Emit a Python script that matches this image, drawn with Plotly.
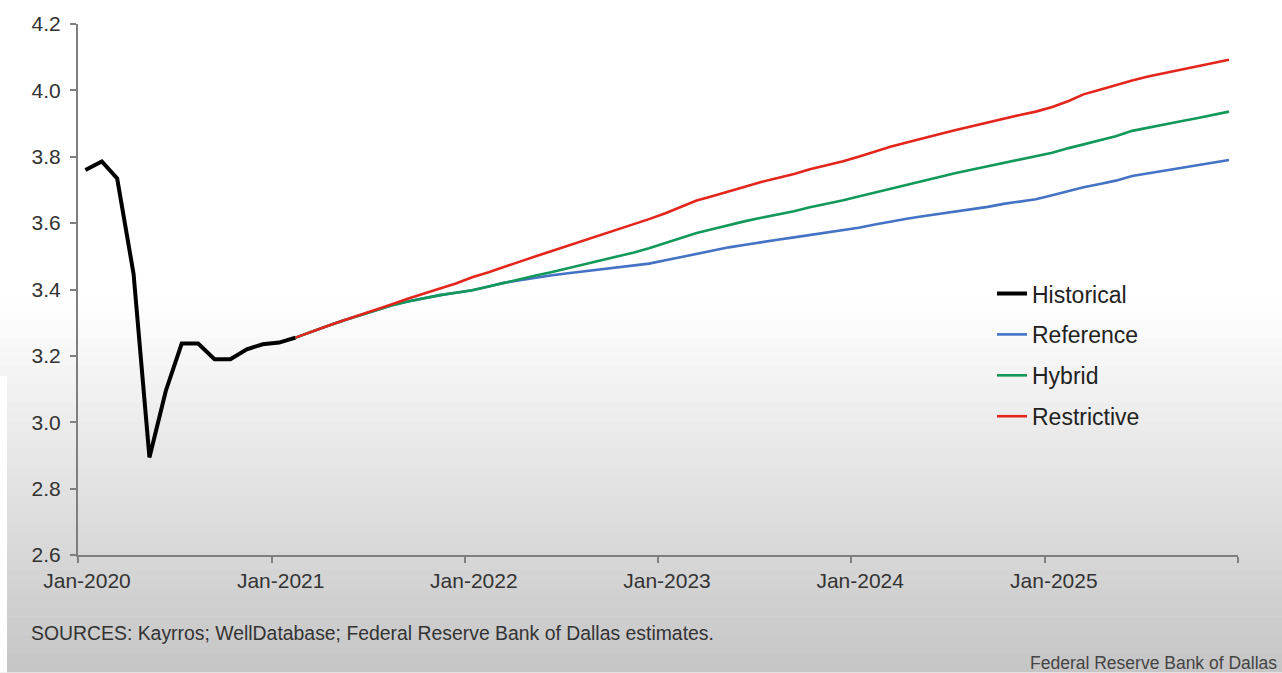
import pandas as pd
import plotly.graph_objects as go

# ---- data ----
months = pd.date_range("2020-01-01", periods=72, freq="MS")
historical = [3.76, 3.786, 3.735, 3.447, 2.894, 3.095, 3.237, 3.237, 3.19, 3.19,
              3.22, 3.235, 3.24, 3.255]
reference = [3.255, 3.272, 3.289, 3.306, 3.322, 3.338, 3.352, 3.364, 3.374, 3.383,
             3.390, 3.398, 3.409, 3.420, 3.428, 3.436, 3.443, 3.449, 3.455, 3.461,
             3.467, 3.472, 3.478, 3.488, 3.498, 3.508, 3.518, 3.527, 3.535, 3.543,
             3.550, 3.557, 3.564, 3.571, 3.578, 3.586, 3.596, 3.605, 3.613, 3.621,
             3.628, 3.635, 3.642, 3.649, 3.658, 3.665, 3.672, 3.684, 3.697, 3.708,
             3.718, 3.728, 3.742, 3.750, 3.758, 3.765, 3.773, 3.781, 3.790]
hybrid = [3.255, 3.272, 3.289, 3.306, 3.322, 3.338, 3.352, 3.364, 3.374, 3.383,
          3.390, 3.398, 3.409, 3.420, 3.431, 3.442, 3.453, 3.464, 3.475, 3.487,
          3.499, 3.511, 3.524, 3.540, 3.556, 3.570, 3.582, 3.594, 3.606, 3.616,
          3.626, 3.636, 3.648, 3.658, 3.668, 3.680, 3.692, 3.704, 3.716, 3.728,
          3.740, 3.750, 3.761, 3.771, 3.782, 3.792, 3.800, 3.812, 3.826, 3.838,
          3.850, 3.862, 3.878, 3.888, 3.898, 3.907, 3.916, 3.926, 3.936]
restrictive = [3.255, 3.272, 3.289, 3.306, 3.322, 3.339, 3.355, 3.372, 3.388, 3.403,
               3.418, 3.437, 3.452, 3.468, 3.484, 3.500, 3.516, 3.532, 3.548, 3.564,
               3.580, 3.596, 3.612, 3.630, 3.650, 3.668, 3.682, 3.696, 3.710, 3.724,
               3.736, 3.748, 3.762, 3.774, 3.786, 3.800, 3.816, 3.830, 3.843, 3.856,
               3.868, 3.880, 3.892, 3.904, 3.916, 3.926, 3.936, 3.950, 3.968, 3.988,
               4.002, 4.016, 4.030, 4.042, 4.052, 4.062, 4.072, 4.082, 4.092]
tick_years = [2020, 2021, 2022, 2023, 2024, 2025, 2026]
tick_labels = ["Jan-2020", "Jan-2021", "Jan-2022", "Jan-2023", "Jan-2024", "Jan-2025", ""]

# points sit in the middle of each month
xmid = months + pd.Timedelta(days=14)
x_hist = xmid[:len(historical)]
x_fc = xmid[len(historical) - 1:]

fig = go.Figure()
series = [
    ("Historical", x_hist, historical, "#000000", 4),
    ("Reference", x_fc, reference, "#4472C4", 2.6),
    ("Hybrid", x_fc, hybrid, "#12995A", 2.6),
    ("Restrictive", x_fc, restrictive, "#E3261C", 2.6),
]
for name, xs, ys, col, w in series:
    fig.add_trace(go.Scatter(x=xs, y=ys, mode="lines", name=name, legendgroup=name,
                             line=dict(color=col, width=w)))

# background gradient (page)
shapes = []
L, T, W, H = 78, 22, 1160, 533
def px2paper_y(p):
    return (T + H - p) / H
def px2paper_x(p):
    return (p - L) / W
y0, y1 = 300, 673
n = 40
for i in range(n):
    a = y0 + (y1 - y0) * i / n
    b = y0 + (y1 - y0) * (i + 1) / n
    t = (i + 0.5) / n
    c = int(round(255 - t * 58))
    shapes.append(dict(type="rect", xref="paper", yref="paper", layer="below",
                       x0=px2paper_x(0), x1=px2paper_x(1282),
                       y0=px2paper_y(b), y1=px2paper_y(a) + 0.001,
                       fillcolor=f"rgb({c},{c},{c})", line=dict(width=0)))
shapes.append(dict(type="rect", xref="paper", yref="paper", layer="below",
                   x0=px2paper_x(0), x1=px2paper_x(7),
                   y0=px2paper_y(673), y1=px2paper_y(375),
                   fillcolor="white", line=dict(width=0)))

tickfont = dict(family="Liberation Sans, Arial, sans-serif", size=21, color="#333333")
fig.update_layout(
    width=1282, height=673,
    margin=dict(l=L, r=1282 - L - W, t=T, b=673 - T - H),
    paper_bgcolor="white", plot_bgcolor="rgba(0,0,0,0)",
    shapes=shapes,
    showlegend=True,
    legend=dict(x=px2paper_x(992), y=px2paper_y(271), xanchor="left", yanchor="top",
                bgcolor="rgba(0,0,0,0)", tracegroupgap=8,
                font=dict(family="Liberation Sans, Arial, sans-serif", size=23, color="#222222")),
    xaxis=dict(type="date", range=["2020-01-01", "2026-01-01"],
               tickvals=[pd.Timestamp(f"{y}-01-01") for y in tick_years],
               ticktext=tick_labels, ticks="outside", ticklen=6, tickwidth=1.5,
               tickcolor="#7f7f7f", showline=True, linecolor="#7f7f7f", linewidth=2,
               showgrid=False, zeroline=False, tickfont=tickfont, ticklabelshift=9,
               ticklabelstandoff=0),
    yaxis=dict(range=[2.6, 4.2], dtick=0.2, tick0=2.6, tickformat=".1f",
               ticks="outside", ticklen=6, tickwidth=1.5, tickcolor="#7f7f7f",
               showline=True, linecolor="#7f7f7f", linewidth=2, showgrid=False,
               zeroline=False, tickfont=tickfont, ticklabelstandoff=5),
    annotations=[
        dict(text="SOURCES: Kayrros; WellDatabase; Federal Reserve Bank of Dallas estimates.",
             xref="paper", yref="paper", x=px2paper_x(29), y=px2paper_y(633),
             xanchor="left", yanchor="middle", showarrow=False,
             font=dict(family="Liberation Sans, Arial, sans-serif", size=19.4, color="#333333")),
        dict(text="Federal Reserve Bank of Dallas",
             xref="paper", yref="paper", x=px2paper_x(1279), y=px2paper_y(663),
             xanchor="right", yanchor="middle", showarrow=False,
             font=dict(family="Liberation Sans, Arial, sans-serif", size=17.5, color="#444444")),
    ],
)

fig.write_html("out.html", config={"displayModeBar": False},
               post_script="document.body.style.margin='0';document.body.style.overflow='hidden';")
